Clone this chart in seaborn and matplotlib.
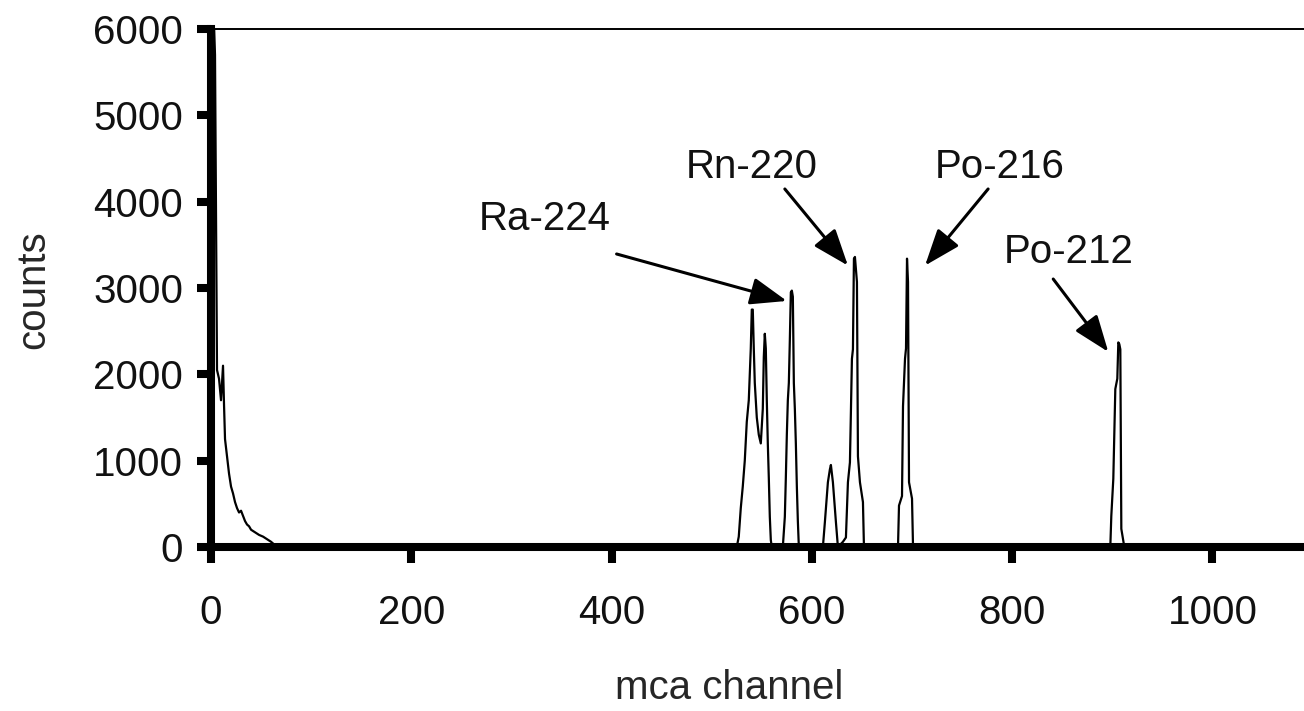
import matplotlib
matplotlib.use("Agg")
import matplotlib.pyplot as plt
import seaborn as sns
import pandas as pd

# Alpha spectrum of a thoron source: counts per MCA channel
channel = [
    0, 2, 4, 6, 8, 10, 12, 13, 14, 16, 18, 20, 22, 24, 26, 28, 30, 32, 34, 36,
    38, 40, 44, 48, 52, 56, 60, 64, 68,
    # Ra-224 region
    525, 527, 529, 531, 533, 535, 537, 538, 539, 540, 541, 542, 543, 545, 547,
    549, 551, 552, 553, 554, 555, 556, 557, 558, 559, 560,
    571, 573, 574, 575, 576, 577, 578, 579, 580, 581, 582, 583, 584, 585, 586, 587,
    # small peak
    611, 613, 616, 618, 619, 621, 624, 626,
    # Rn-220
    631, 634, 636, 638, 640, 641, 642, 643, 645, 646, 648, 651, 652,
    # Po-216
    686, 687, 690, 691, 693, 694, 695, 696, 697, 700, 701,
    # Po-212
    898, 899, 901, 903, 905, 906, 907, 908, 909, 912,
    1100,
]
counts = [
    0, 6400, 5700, 2050, 1950, 1700, 2100, 1650, 1250, 1050, 850, 700, 620, 520,
    450, 400, 420, 360, 300, 260, 240, 200, 170, 140, 120, 90, 60, 20, 0,
    0, 120, 450, 700, 1000, 1450, 1700, 2000, 2300, 2750, 2750, 2300, 1900, 1500,
    1300, 1200, 1600, 2200, 2470, 2300, 1700, 1200, 800, 350, 80, 0,
    0, 350, 800, 1300, 1700, 1900, 2400, 2950, 2970, 2900, 1900, 1600, 1200, 700,
    300, 0,
    0, 290, 750, 900, 950, 750, 290, 0,
    60, 110, 750, 980, 2180, 2290, 3340, 3360, 3070, 1050, 750, 520, 0,
    0, 480, 590, 1630, 2180, 2300, 3340, 3070, 750, 560, 0,
    0, 360, 790, 1830, 1950, 2370, 2350, 2290, 210, 0,
    0,
]

isotopes = ["Ra-224", "Rn-220", "Po-216", "Po-212"]

spectrum = pd.DataFrame({"mca channel": channel, "counts": counts})

sns.set_theme(style="white")
plt.rcParams["font.family"] = ["Liberation Sans", "DejaVu Sans"]
plt.rcParams["text.color"] = "#111111"

fig = plt.figure(figsize=(13.04, 7.11), dpi=100)
ax = fig.add_axes([211 / 1304, 1 - 547 / 711, 1101.6 / 1304, 518 / 711])

sns.lineplot(data=spectrum, x="mca channel", y="counts", estimator=None,
             sort=False, color="black", linewidth=1.6, ax=ax)

ax.set_xlim(0, 1100)
ax.set_ylim(0, 6000)
ax.set_xticks(range(0, 1001, 200))
ax.set_yticks(range(0, 6001, 1000))

for side in ("left", "bottom"):
    ax.spines[side].set_linewidth(5.8)
    ax.spines[side].set_color("black")
ax.spines["top"].set_linewidth(1.4)
ax.spines["top"].set_color("black")
ax.spines["right"].set_visible(False)

ax.tick_params(axis="both", which="major", direction="out", width=5.8,
               color="black", labelsize=29, labelcolor="#111111")
ax.tick_params(axis="y", length=10, pad=10)
ax.tick_params(axis="x", length=11.5, pad=22)
ax.tick_params(left=True, bottom=True)

ax.set_xlabel("mca channel", fontsize=29)
ax.set_ylabel("counts", fontsize=29)
ax.xaxis.set_label_coords(0.470, -0.235)
ax.yaxis.set_label_coords(-0.144, 0.496)

# Peak labels with arrows
label_pos = [(333, 3800), (540, 4400), (788, 4400), (856, 3420)]
arrow_tail = [(405, 3394), (573, 4147), (776, 4147), (841, 3104)]
arrow_head = [(575, 2850), (636, 3260), (713, 3260), (896, 2260)]
for name, lp, tail, head in zip(isotopes, label_pos, arrow_tail, arrow_head):
    ax.text(lp[0], lp[1], name, fontsize=29, ha="center", va="center")
    ax.annotate("", xy=head, xytext=tail,
                arrowprops=dict(arrowstyle="-|>,head_length=0.8,head_width=0.3",
                                color="black", lw=2.2, mutation_scale=28,
                                shrinkA=0, shrinkB=0))

fig.savefig("out.png", dpi=100, facecolor="white")
